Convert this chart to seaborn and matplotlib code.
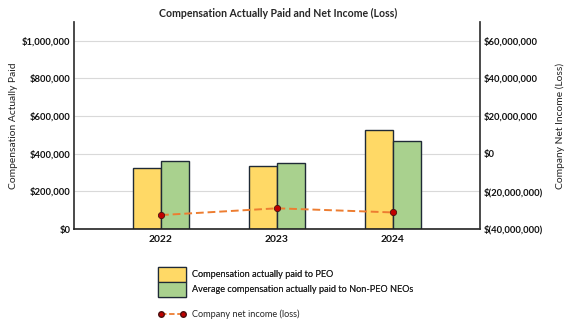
import numpy as np
import pandas as pd
import matplotlib
matplotlib.use("Agg")
import matplotlib.pyplot as plt
import seaborn as sns
from matplotlib.patches import Patch
from matplotlib.lines import Line2D
from matplotlib.ticker import FuncFormatter

years = ["2022", "2023", "2024"]
peo_cap = [323000, 335000, 527000]
neo_cap = [360000, 353000, 469000]
net_income = [-32600000, -29000000, -31200000]
series_names = ["Compensation actually paid to PEO",
                "Average compensation actually paid to Non-PEO NEOs"]
line_name = "Company net income (loss)"

sns.set_theme(style="white")
plt.rcParams['font.family'] = ['Lato', 'DejaVu Sans']

df = pd.DataFrame({
    "Year": years * 2,
    "Value": peo_cap + neo_cap,
    "Series": [series_names[0]] * 3 + [series_names[1]] * 3,
})

colors = ["#FFD966", "#A9D18E"]
edge = "#1F2A36"
fig = plt.figure(figsize=(5.75, 3.21), dpi=100)
ax = fig.add_axes([0.1287, 0.2866, 0.7061, 0.645])
sns.barplot(data=df, x="Year", y="Value", hue="Series", palette=colors,
            width=0.49, edgecolor=edge, linewidth=1.0, ax=ax,
            legend=False, saturation=1)
ax.set_xlim(-0.75, 2.75)
ax.set_ylim(0, 1100000)
ax.set_yticks(np.arange(0, 1000001, 200000))
ax.yaxis.set_major_formatter(FuncFormatter(lambda v, p: f"${v:,.0f}"))
ax.grid(axis="y", color="#D9D9D9", linewidth=0.8)
ax.set_axisbelow(True)
ax.set_xlabel("")
ax.set_ylabel("Compensation Actually Paid", fontsize=7.4, color="#222222")
ax.yaxis.set_label_coords(-0.138, 0.5)
for lbl in ax.get_yticklabels() + ax.get_xticklabels():
    lbl.set_fontweight("bold")
ax.tick_params(axis="y", labelsize=6.8, length=0, pad=2.5, colors="#111111")
ax.tick_params(axis="x", labelsize=7.4, length=0, pad=4.5, colors="#111111")
for s in ["top", "right"]:
    ax.spines[s].set_visible(False)
ax.spines["left"].set_color("#333333")
ax.spines["bottom"].set_color("#222222")
ax.spines["bottom"].set_linewidth(1.2)

ax2 = ax.twinx()
x_pos = np.arange(len(years))
ax2.plot(x_pos, net_income, linestyle=(0, (4, 2)), color="#ED7D31", linewidth=1.4,
         marker="o", markersize=4.5, markerfacecolor="#C00000",
         markeredgecolor="#4A1010", markeredgewidth=0.6, zorder=5)
ax2.set_ylim(-40000000, 70000000)
ax2.set_yticks(np.arange(-40000000, 60000001, 20000000))
def fmt_r(v, p):
    if v < 0:
        return f"$({-v:,.0f})"
    return f"${v:,.0f}"
ax2.yaxis.set_major_formatter(FuncFormatter(fmt_r))
ax2.set_ylabel("Company Net Income (Loss)", fontsize=7.4, color="#222222")
ax2.yaxis.set_label_coords(1.185, 0.5)
ax2.tick_params(axis="y", labelsize=6.8, length=0, pad=2.5, colors="#111111")
for lbl in ax2.get_yticklabels():
    lbl.set_fontweight("bold")
for s in ["top", "left", "bottom"]:
    ax2.spines[s].set_visible(False)
ax2.spines["right"].set_color("#333333")
ax2.grid(False)

fig.text(0.483, 0.958, "Compensation Actually Paid and Net Income (Loss)",
         ha="center", va="center", fontsize=7.6, fontweight="bold")

fs = 6.6
handles = [Patch(facecolor=colors[0], edgecolor=edge, linewidth=0.9),
           Patch(facecolor=colors[1], edgecolor=edge, linewidth=0.9)]
leg1 = fig.legend(handles, series_names, loc="upper left",
                  bbox_to_anchor=(0.2748, 0.168), frameon=False, fontsize=fs,
                  handlelength=3.05, handleheight=2.1, labelspacing=0.0,
                  handletextpad=0.65, borderaxespad=0, borderpad=0)
fig.add_artist(leg1)
line_handle = Line2D([0], [0], linestyle=(0, (3, 1.5)), color="#ED7D31", linewidth=1.3,
                     marker="o", markersize=4, markerfacecolor="#C00000",
                     markeredgecolor="#4A1010")
leg2 = fig.legend([line_handle], [line_name], loc="center left",
                  bbox_to_anchor=(0.2748, 0.022), frameon=False, fontsize=fs,
                  handlelength=3.05, numpoints=2, handletextpad=0.65,
                  borderaxespad=0, borderpad=0)

fig.savefig("out.png", dpi=100)
